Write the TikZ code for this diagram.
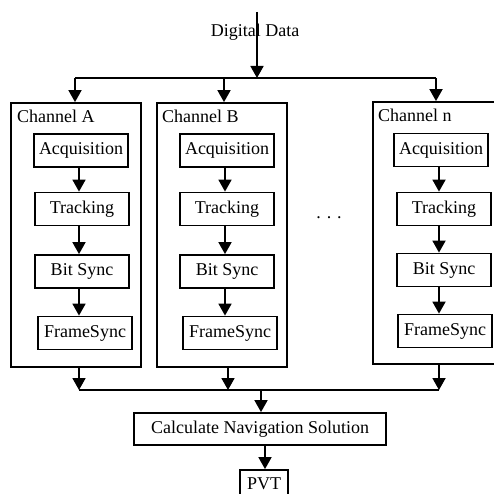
\documentclass[tikz,border=0pt]{standalone}
\usepackage{fontspec}
\setmainfont{Liberation Serif}
\usetikzlibrary{arrows.meta}
\begin{document}
\begin{tikzpicture}[x=1pt,y=-1pt,
  every node/.style={font=\fontsize{18}{21}\selectfont},
  blk/.style={draw,line width=1.8pt,minimum width=94pt,minimum height=33pt,inner sep=0pt},
  chan/.style={draw,line width=1.8pt,inner sep=0pt},
  lbl/.style={anchor=west,inner sep=0pt},
  conn/.style={line width=1.8pt},
  arr/.style={line width=1.8pt,-{Triangle[width=13pt,length=12pt]}}]
\useasboundingbox (0,0) rectangle (493,494);
% channel frames
\node[chan,minimum width=130pt,minimum height=264pt] (chA) at (76,235) {};
\node[chan,minimum width=130pt,minimum height=264pt] (chB) at (222,235) {};
\node[chan,minimum width=140pt,minimum height=262pt] (chN) at (443,233) {};
\node[lbl] (lA) at (17,116) {Channel A};
\node[lbl] (lB) at (162,116) {Channel B};
\node[lbl] (lN) at (378,115) {Channel n};
% inner blocks A
\node[blk] (aqA) at (81,150.5) {Acquisition};
\node[blk] (trA) at (82,209) {Tracking};
\node[blk] (bsA) at (82,271.5) {Bit Sync};
\node[blk] (fsA) at (85,333) {FrameSync};
% B
\node[blk] (aqB) at (227,150.5) {Acquisition};
\node[blk] (trB) at (227,209) {Tracking};
\node[blk] (bsB) at (227,271.5) {Bit Sync};
\node[blk] (fsB) at (230,333) {FrameSync};
% n
\node[blk] (aqN) at (441,150) {Acquisition};
\node[blk] (trN) at (444,209) {Tracking};
\node[blk] (bsN) at (444,270) {Bit Sync};
\node[blk] (fsN) at (445,331) {FrameSync};
\foreach \c/\x in {A/79,B/225,N/439}{
  \draw[arr] (aq\c.south -| \x,0) -- (tr\c.north -| \x,0);
  \draw[arr] (tr\c.south -| \x,0) -- (bs\c.north -| \x,0);
  \draw[arr] (bs\c.south -| \x,0) -- (fs\c.north -| \x,0);
}
\node (dots) at (329,218) {. . .};
% input
\node (dd) at (255,32) {Digital Data};
\coordinate (in) at (257,12);
\coordinate (bus) at (257,78);
\coordinate (tA) at (75,78);
\coordinate (tB) at (224,78);
\coordinate (tN) at (436,78);
\draw[arr] (in) -- (bus);
\draw[conn] (tA) -- (tN);
\draw[arr] (tA) -- (tA |- chA.north);
\draw[arr] (tB) -- (tB |- chB.north);
\draw[arr] (tN) -- (tN |- chN.north);
% output
\coordinate (bA) at (79,390);
\coordinate (bB) at (228,390);
\coordinate (bN) at (439,390);
\coordinate (bC) at (261,390);
\draw[arr] (bA |- chA.south) -- (bA);
\draw[arr] (bB |- chB.south) -- (bB);
\draw[arr] (bN |- chN.south) -- (bN);
\draw[conn] (bA) -- (bN);
\node[blk,minimum width=252pt,minimum height=32pt] (calc) at (260,429) {Calculate Navigation Solution};
\draw[arr] (bC) -- (bC |- calc.north);
\node[blk,minimum width=48pt,minimum height=28pt] (pvt) at (264,484) {PVT};
\draw[arr] (calc.south -| 265,0) -- (pvt.north -| 265,0);
\end{tikzpicture}
\end{document}
